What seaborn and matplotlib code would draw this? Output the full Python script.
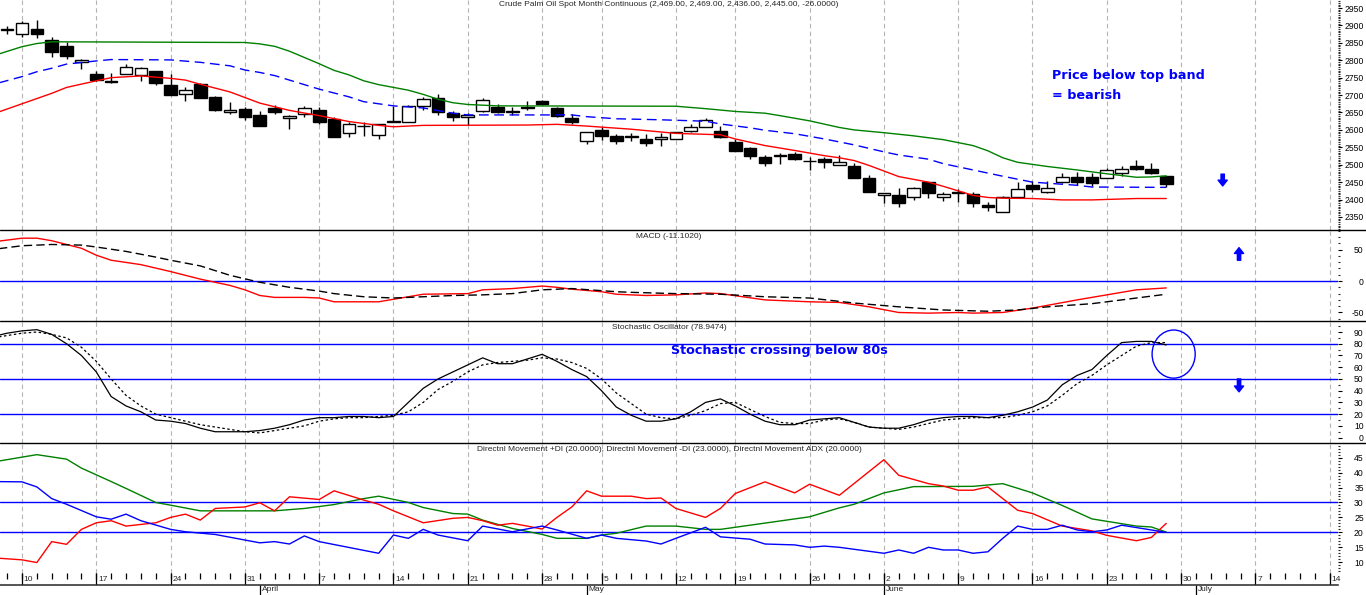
import numpy as np
import pandas as pd
import matplotlib.pyplot as plt
import seaborn as sns
from matplotlib.patches import Ellipse
from matplotlib.lines import Line2D
from matplotlib.ticker import MultipleLocator

sns.set_style('white')
plt.rcParams['font.family'] = ['Liberation Sans', 'DejaVu Sans']
plt.rcParams['axes.unicode_minus'] = False

# trading day numbers, 0 = Mon 10 March
candle_days = list(range(-1, 78))
opens = [2886, 2875, 2889, 2858, 2841, 2794, 2761, 2741, 2760, 2757,
         2769, 2729, 2702, 2732, 2695, 2650, 2660, 2643, 2664, 2633,
         2645, 2657, 2631, 2592, 2610, 2585, 2624, 2622, 2669, 2693,
         2648, 2636, 2655, 2667, 2652, 2667, 2683, 2662, 2635, 2569,
         2600, 2583, 2581, 2573, 2573, 2574, 2597, 2608, 2597, 2565,
         2547, 2523, 2528, 2531, 2511, 2517, 2500, 2497, 2461, 2413,
         2413, 2407, 2450, 2407, 2421, 2416, 2384, 2365, 2407, 2442,
         2421, 2450, 2466, 2466, 2461, 2477, 2497, 2487, 2469]
highs = [2898, 2913, 2916, 2866, 2852, 2804, 2769, 2763, 2789, 2780,
         2770, 2761, 2722, 2735, 2698, 2679, 2667, 2654, 2672, 2643,
         2669, 2665, 2638, 2624, 2624, 2617, 2669, 2671, 2695, 2703,
         2654, 2648, 2691, 2674, 2667, 2683, 2686, 2665, 2645, 2595,
         2609, 2588, 2590, 2588, 2590, 2595, 2617, 2635, 2611, 2574,
         2552, 2528, 2535, 2537, 2523, 2523, 2528, 2504, 2471, 2420,
         2433, 2437, 2451, 2423, 2430, 2421, 2394, 2410, 2450, 2452,
         2454, 2476, 2480, 2477, 2490, 2495, 2514, 2504, 2469]
lows = [2875, 2866, 2863, 2810, 2804, 2774, 2740, 2734, 2760, 2739,
        2729, 2700, 2684, 2692, 2654, 2646, 2629, 2612, 2647, 2602,
        2636, 2617, 2579, 2581, 2582, 2574, 2623, 2622, 2657, 2643,
        2627, 2614, 2652, 2648, 2643, 2657, 2671, 2638, 2617, 2560,
        2571, 2560, 2569, 2555, 2555, 2573, 2595, 2607, 2578, 2538,
        2517, 2495, 2502, 2515, 2485, 2490, 2498, 2463, 2423, 2391,
        2380, 2399, 2405, 2396, 2394, 2380, 2368, 2365, 2407, 2423,
        2418, 2447, 2442, 2440, 2461, 2469, 2485, 2474, 2436]
closes = [2891, 2906, 2875, 2823, 2813, 2800, 2743, 2737, 2780, 2777,
          2734, 2701, 2714, 2693, 2658, 2656, 2638, 2612, 2650, 2640,
          2662, 2624, 2579, 2616, 2612, 2616, 2626, 2669, 2689, 2650,
          2636, 2643, 2686, 2652, 2654, 2662, 2675, 2641, 2624, 2593,
          2583, 2569, 2583, 2563, 2579, 2593, 2608, 2629, 2581, 2538,
          2526, 2506, 2524, 2517, 2510, 2509, 2509, 2463, 2423, 2420,
          2390, 2434, 2418, 2415, 2418, 2390, 2380, 2407, 2430, 2430,
          2434, 2466, 2450, 2447, 2485, 2487, 2487, 2476, 2445]

up_days = [-2, 0, 1, 2, 15, 16, 17, 18, 19, 20, 21, 22, 23, 24, 25, 26, 27, 28, 29, 30, 32,
           44, 46, 48, 50, 51, 53, 55, 56, 58, 60, 62, 64, 65, 66, 67, 69, 71, 73, 75, 76, 77]
up_vals = [2812, 2839, 2848, 2853, 2851, 2847, 2840, 2826, 2808, 2790, 2771, 2758, 2741, 2730,
           2722, 2714, 2702, 2688, 2678, 2673, 2669, 2668, 2661, 2653, 2648, 2641, 2626, 2607,
           2600, 2592, 2583, 2572, 2555, 2540, 2520, 2507, 2495, 2485, 2474, 2464, 2465, 2468]
mid_days = [-2, 0, 1, 2, 3, 5, 6, 10, 12, 14, 15, 16, 17, 18, 20, 22, 23, 25, 27, 29, 30,
            37, 38, 40, 43, 46, 47, 49, 50, 52, 54, 56, 58, 59, 61, 62, 64, 66, 68, 70, 71, 72, 77]
mid_vals = [2730, 2753, 2767, 2777, 2789, 2798, 2802, 2801, 2794, 2784, 2772, 2765, 2756, 2743,
            2717, 2695, 2681, 2669, 2663, 2648, 2643, 2643, 2638, 2632, 2629, 2625, 2617, 2606,
            2599, 2589, 2574, 2557, 2537, 2528, 2516, 2503, 2485, 2467, 2450, 2444, 2441, 2436, 2435]
low_days = [-2, 0, 2, 3, 5, 6, 8, 10, 11, 12, 14, 16, 18, 20, 22, 24, 25, 27, 34, 36, 38,
            41, 44, 47, 48, 50, 52, 54, 55, 56, 57, 59, 61, 62, 64, 65, 66, 68, 70, 72, 75, 77]
low_vals = [2645, 2675, 2705, 2722, 2741, 2750, 2755, 2748, 2743, 2731, 2709, 2677, 2656, 2641,
            2624, 2613, 2609, 2613, 2614, 2616, 2611, 2602, 2590, 2586, 2574, 2555, 2541, 2526,
            2520, 2512, 2498, 2466, 2450, 2438, 2412, 2406, 2404, 2403, 2399, 2399, 2403, 2403]

macd_days = [-2, 0, 1, 2, 4, 5, 6, 8, 10, 12, 14, 15, 16, 17, 19, 20, 21, 24, 26, 27, 30, 31, 33,
             35, 36, 37, 39, 40, 42, 44, 46, 47, 50, 53, 55, 57, 59, 61, 63, 64, 66, 68, 71, 73, 75, 77]
macd_vals = [62, 68, 68, 64, 52, 41, 33, 26, 15, 3, -7, -14, -23, -26, -26, -27, -33, -33, -25,
             -21, -20, -14, -12, -8, -10, -13, -17, -21, -23, -22, -19, -20, -30, -33, -34, -41,
             -50, -51, -50, -51, -50, -43, -30, -22, -14, -11]
sig_days = [-2, 0, 2, 4, 5, 7, 9, 10, 12, 14, 16, 18, 20, 21, 23, 25, 27, 29, 31, 33, 35, 37,
            40, 41, 44, 47, 50, 53, 56, 59, 62, 65, 67, 69, 72, 74, 77]
sig_vals = [50, 56, 58, 57, 54, 47, 38, 33, 24, 9, -2, -10, -16, -20, -25, -27, -25, -23, -22,
            -20, -14, -12, -17, -18, -20, -21, -25, -27, -35, -41, -46, -48, -46, -41, -36, -30, -21]

stoch_days = list(range(-2, 78))
stoch_k = [86, 89, 91, 92, 88, 80, 70, 56, 35, 27, 22, 15, 14, 12, 8, 5, 5, 5, 6, 8,
           11, 15, 17, 17, 18, 18, 17, 18, 30, 42, 50, 56, 62, 68, 63, 63, 67, 71, 65, 58,
           52, 40, 26, 19, 14, 14, 16, 22, 30, 33, 27, 20, 14, 11, 11, 15, 16, 17, 13, 9,
           8, 8, 11, 15, 17, 18, 18, 17, 19, 22, 26, 32, 45, 53, 58, 70, 81, 82, 82, 79]
stoch_d = [85, 87, 89, 90, 88, 85, 77, 65, 50, 36, 27, 20, 17, 14, 11, 9, 7, 5, 4, 6,
           8, 10, 14, 16, 17, 17, 18, 19, 22, 30, 41, 48, 56, 62, 64, 65, 66, 68, 67, 64,
           59, 50, 38, 29, 20, 17, 16, 19, 23, 29, 30, 24, 18, 13, 12, 12, 15, 16, 13, 9,
           8, 7, 9, 12, 15, 16, 17, 17, 17, 19, 22, 27, 36, 46, 53, 62, 70, 78, 81, 81]

adx_days = [-2, 1, 3, 4, 6, 7, 9, 10, 12, 17, 19, 21, 23, 24, 26, 27, 29, 30, 31, 33, 35, 36,
            38, 39, 40, 42, 44, 46, 47, 49, 53, 55, 56, 58, 60, 64, 66, 68, 70, 72, 75, 76, 77]
adx_vals = [43.5, 46, 44.5, 41.5, 37, 34.7, 30, 29.1, 27.2, 27.2, 28, 29.3, 31.3, 32.1, 30,
            28.3, 26.3, 26.1, 24.1, 21.3, 19.3, 18, 18, 19.1, 19.7, 22.1, 22.1, 21, 21, 22.4,
            25.2, 28.2, 29.4, 33.2, 35.3, 35.4, 36.3, 33.2, 29, 24.5, 22.1, 21.8, 20.1]
mdi_days = [-2, 0, 1, 2, 3, 4, 5, 6, 7, 9, 10, 11, 12, 13, 15, 16, 17, 18, 20, 21, 23, 24, 25,
            27, 29, 30, 31, 32, 33, 34, 35, 36, 37, 38, 39, 41, 42, 43, 44, 46, 47, 48, 50, 52,
            53, 55, 58, 59, 61, 62, 63, 64, 65, 67, 68, 70, 72, 73, 75, 76, 77]
mdi_vals = [11.5, 10.8, 9.9, 16.9, 16, 21, 23.2, 23.9, 22.1, 23.2, 25, 26.1, 24.1, 28, 28.5,
            29.9, 27.2, 31.9, 31, 33.9, 30.8, 29.4, 27.2, 23.2, 24.7, 25, 23.9, 22.4, 23, 22.1,
            21.1, 25, 28.5, 33.9, 32.1, 32.1, 31.3, 31.5, 28, 25, 28, 33, 36.9, 33.2, 36.1,
            32.4, 44.3, 39.1, 36.3, 35.5, 34.1, 34.1, 35.2, 27.4, 26.3, 22.1, 20.5, 19, 17.2,
            18.3, 23]
pdi_days = [-2, 0, 1, 2, 3, 5, 6, 7, 8, 10, 11, 13, 16, 17, 18, 19, 20, 24, 25, 26, 27, 28,
            30, 31, 33, 35, 36, 38, 39, 40, 42, 43, 44, 46, 47, 49, 50, 52, 53, 54, 55, 58, 59,
            60, 61, 62, 63, 64, 65, 66, 67, 68, 69, 70, 71, 72, 73, 74, 76, 77]
pdi_vals = [37, 36.9, 35.2, 31.3, 29.4, 25.2, 24.4, 26.1, 23.9, 21, 20.2, 19.3, 16.5, 16.9,
            16.1, 18.8, 16.9, 13, 19.1, 18, 21, 19.1, 17.2, 22.1, 20.2, 22.1, 20.8, 18, 19.1,
            18, 17.1, 16.1, 18, 21.7, 18.5, 17.7, 16.1, 15.8, 15, 15.4, 15, 13, 14.1, 13, 15,
            14.1, 14.1, 13, 13.5, 18, 22.1, 21, 21, 22.4, 20.8, 20.2, 20.8, 22.4, 20.8, 20]

week_pos = [0, 5, 10, 15, 20, 25, 30, 35, 39, 44, 48, 53, 58, 63, 68, 73, 78, 83, 88]
week_labels = ['10', '17', '24', '31', '7', '14', '21', '28', '5', '12', '19', '26',
               '2', '9', '16', '23', '30', '7', '14']
month_pos = [16, 38, 58, 79]
month_labels = ['April', 'May', 'June', 'July']
all_days = list(range(-1, 89))

price_title = 'Crude Palm Oil Spot Month Continuous (2,469.00, 2,469.00, 2,436.00, 2,445.00, -26.0000)'
macd_title = 'MACD (-11.1020)'
stoch_title = 'Stochastic Oscillator (78.9474)'
dmi_title = ('Directnl Movement +DI (20.0000), Directnl Movement -DI (23.0000), '
             'Directnl Movement ADX (20.0000)')

BLUE = '#0000ff'
W, H = 1366, 595
fig = plt.figure(figsize=(W / 100, H / 100), dpi=100)


def panel(top, bottom):
    return fig.add_axes([0, (H - bottom) / H, 1338 / W, (bottom - top) / H])


ax_p = panel(0, 230)
ax_m = panel(230, 321)
ax_s = panel(321, 443)
ax_d = panel(443, 573)
ax_t = panel(573, 585)

# candles
o = np.array(opens)
c = np.array(closes)
ax_p.vlines(candle_days, lows, highs, color='black', lw=1.0, zorder=2)
ax_p.bar(candle_days, np.maximum(np.abs(c - o), 1), bottom=np.minimum(o, c), width=0.85,
         color=np.where(c >= o, 'white', 'black'), edgecolor='black', linewidth=1.0, zorder=3)
sns.lineplot(x=up_days, y=up_vals, ax=ax_p, color='#008000', lw=1.0, zorder=4)
sns.lineplot(x=mid_days, y=mid_vals, ax=ax_p, color=BLUE, lw=1.0, linestyle=(0, (7, 4)), zorder=4)
sns.lineplot(x=low_days, y=low_vals, ax=ax_p, color='#ff0000', lw=1.0, zorder=4)

# macd
ax_m.axhline(0, color=BLUE, lw=1.0, zorder=1.5)
sns.lineplot(x=macd_days, y=macd_vals, ax=ax_m, color='#ff0000', lw=1.0)
sns.lineplot(x=sig_days, y=sig_vals, ax=ax_m, color='black', lw=1.0, linestyle=(0, (6, 3)))

# stochastic
stoch = pd.DataFrame({'day': stoch_days, 'k': stoch_k, 'd': stoch_d})
for lvl in (80, 50, 20):
    ax_s.axhline(lvl, color=BLUE, lw=1.0, zorder=1.5)
sns.lineplot(data=stoch, x='day', y='k', ax=ax_s, color='black', lw=0.9)
sns.lineplot(data=stoch, x='day', y='d', ax=ax_s, color='black', lw=0.9, linestyle=(0, (2, 2)))
ax_s.add_patch(Ellipse((77.5, 71.2), 2.9, 41, fill=False, ec=BLUE, lw=1.0, zorder=5))

# dmi
for lvl in (30, 20):
    ax_d.axhline(lvl, color=BLUE, lw=1.0, zorder=1.5)
sns.lineplot(x=adx_days, y=adx_vals, ax=ax_d, color='#008000', lw=1.0)
sns.lineplot(x=mdi_days, y=mdi_vals, ax=ax_d, color='#ff0000', lw=1.0)
sns.lineplot(x=pdi_days, y=pdi_vals, ax=ax_d, color=BLUE, lw=1.0)


def style(ax, ylim, major, minor):
    ax.set_xlim(-1.48, 88.56)
    ax.set_ylim(*ylim)
    ax.set_xticks(week_pos)
    ax.tick_params(axis='x', length=0, labelbottom=False)
    ax.grid(axis='x', color='#b4b4b4', ls=(0, (4, 3)), lw=0.8)
    ax.grid(axis='y', visible=False)
    ax.set_axisbelow(True)
    for s in ax.spines.values():
        s.set_visible(False)
    ax.yaxis.tick_right()
    ax.set_yticks(major)
    ax.yaxis.set_minor_locator(MultipleLocator(minor))
    ax.tick_params(axis='y', which='major', right=True, left=False, length=3, width=0.8,
                   pad=15.5, labelsize=6.2, colors='black')
    ax.tick_params(axis='y', which='minor', right=True, left=False, length=1.3, width=0.8)
    plt.setp(ax.get_yticklabels(), ha='right')
    ax.set_xlabel('')
    ax.set_ylabel('')


style(ax_p, (2312.6, 2973), list(range(2350, 2951, 50)), 5)
style(ax_m, (-63.5, 81), [-50, 0, 50], 10)
style(ax_s, (-4.6, 99.4), list(range(0, 91, 10)), 5)
style(ax_d, (6.4, 49.9), list(range(10, 46, 5)), 1)

for ax, t, off in ((ax_p, price_title, -1), (ax_m, macd_title, -2.5),
                   (ax_s, stoch_title, -2), (ax_d, dmi_title, -2)):
    ax.annotate(t, (0.5, 1), xycoords='axes fraction', xytext=(0, off),
                textcoords='offset points', ha='center', va='top', fontsize=6)

note = dict(color=BLUE, fontsize=9.2, fontweight='bold', family='DejaVu Sans', va='center', ha='left')
ax_p.text(69.3, 2755, 'Price below top band', **note)
ax_p.text(69.3, 2700, '= bearish', **note)
ax_s.text(43.7, 74.6, 'Stochastic crossing below 80s', **note)

arrow = dict(arrowstyle='simple,head_width=0.55,head_length=0.35,tail_width=0.2',
             color=BLUE, mutation_scale=12, shrinkA=0, shrinkB=0)
ax_p.annotate('', xy=(80.8, 2439), xytext=(80.8, 2473), arrowprops=arrow)
ax_m.annotate('', xy=(81.9, 53), xytext=(81.9, 33), arrowprops=arrow)
ax_s.annotate('', xy=(81.9, 39), xytext=(81.9, 50), arrowprops=arrow)

for ypx in (230, 321, 443):
    fig.add_artist(Line2D([0, 1], [1 - ypx / H] * 2, color='black', lw=1.0))

# date strip
ax_t.set_xlim(-1.48, 88.56)
ax_t.set_ylim(0, 1)
ax_t.set_xticks([])
ax_t.set_yticks([])
ax_t.patch.set_alpha(0)
for k, s in ax_t.spines.items():
    s.set_visible(k == 'bottom')
ax_t.spines['bottom'].set_linewidth(1.1)
ax_t.vlines(all_days, 0.5, 1, color='black', lw=0.9)
ax_t.vlines(week_pos, 0, 1, color='black', lw=0.9)
ax_t.vlines(month_pos, -0.85, 0, color='black', lw=0.9, clip_on=False)
for p, lbl in zip(week_pos, week_labels):
    ax_t.text(p + 0.12, 0.42, lbl, fontsize=6, va='center', ha='left')
for p, lbl in zip(month_pos, month_labels):
    ax_t.text(p + 0.12, -0.05, lbl, fontsize=6, va='top', ha='left')

fig.savefig('out.png', dpi=100)
